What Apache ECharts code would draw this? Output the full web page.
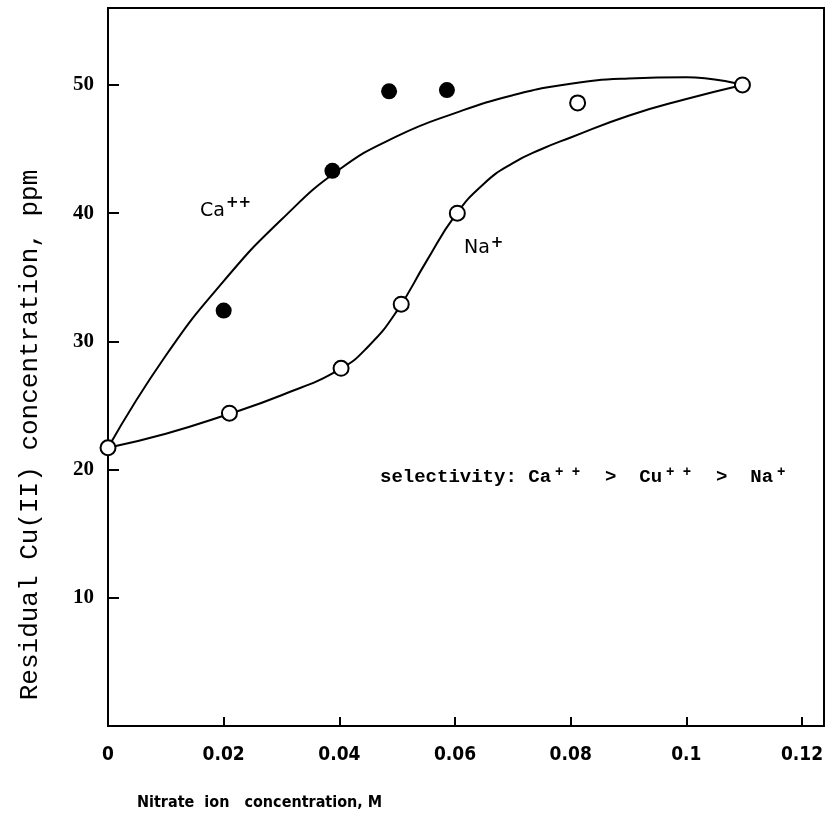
<!DOCTYPE html>
<html>
<head>
<meta charset="utf-8">
<title>Residual Cu(II) vs nitrate ion concentration</title>
<script src="https://cdn.jsdelivr.net/npm/echarts@6/dist/echarts.min.js"></script>
<style>
    html, body { margin: 0; padding: 0; background: #fff; }
    #chart { width: 833px; height: 829px; }
</style>
</head>
<body>
<div id="chart"></div>
<script>

// Data
// ------------------------------

// Measured points, [nitrate M, residual Cu ppm]
var caPoints = [[0.02, 32.4], [0.0388, 43.3], [0.0486, 49.5], [0.0586, 49.6]];
var naPoints = [[0, 21.7], [0.021, 24.4], [0.0403, 27.9], [0.0507, 32.9],
                [0.0604, 40.0], [0.0812, 48.6], [0.1097, 50.0]];

// Hand drawn fit curves
var caCurve = [[0, 21.7], [0.01, 28.9], [0.02, 34.7], [0.03, 39.5], [0.04, 43.4],
               [0.05, 46.0], [0.06, 47.8], [0.07, 49.2], [0.08, 50.1],
               [0.09, 50.5], [0.1, 50.6], [0.1097, 50.0]];
var naCurve = [[0, 21.7], [0.01, 22.8], [0.02, 24.2], [0.03, 25.8], [0.04, 27.8],
               [0.045, 29.6], [0.05, 32.4], [0.055, 36.2], [0.06, 39.8],
               [0.065, 42.3], [0.07, 43.9], [0.075, 45.0], [0.08, 45.9],
               [0.09, 47.6], [0.1, 48.9], [0.1097, 50.0]];

// Tick labels
var xTicks = [0, 0.02, 0.04, 0.06, 0.08, 0.1, 0.12];
var yTicks = [10, 20, 30, 40, 50];


// Chart
// ------------------------------

var chartElement = document.getElementById('chart');
var chart = echarts.init(chartElement);

var monoFont = '"Liberation Mono", "DejaVu Sans Mono", monospace';
var narrowFont = '"DejaVu Sans Condensed", "Liberation Sans Narrow", "DejaVu Sans", sans-serif';

chart.setOption({
    animation: false,
    backgroundColor: '#fff',

    // Plot box
    grid: {
        left: 108,
        right: 9,
        top: 8,
        bottom: 103,
        show: true,
        borderColor: '#000',
        borderWidth: 2
    },

    xAxis: {
        type: 'value',
        min: 0,
        max: 0.1238,
        interval: 0.02,
        axisLine: { lineStyle: { color: '#000', width: 2 } },
        axisTick: { inside: true, length: 9, lineStyle: { color: '#000', width: 2 } },
        splitLine: { show: false },
        axisLabel: {
            margin: 20,
            color: '#000',
            fontFamily: narrowFont,
            fontWeight: 'bold',
            fontSize: 19,
            showMaxLabel: false,
            formatter: function (v) {
                for (var i = 0; i < xTicks.length; i++) {
                    if (Math.abs(xTicks[i] - v) < 1e-9) return String(xTicks[i]);
                }
                return '';
            }
        }
    },

    yAxis: {
        type: 'value',
        min: 0,
        max: 56,
        interval: 10,
        axisLine: { lineStyle: { color: '#000', width: 2 } },
        axisTick: { inside: true, length: 11, lineStyle: { color: '#000', width: 2 } },
        splitLine: { show: false },
        axisLabel: {
            margin: 14,
            color: '#000',
            fontFamily: '"Liberation Serif", "DejaVu Serif", serif',
            fontWeight: 'bold',
            fontSize: 21,
            formatter: function (v) {
                return yTicks.indexOf(v) >= 0 ? String(v) : '';
            }
        }
    },

    // Axis titles and text annotations
    graphic: [
        {
            type: 'text',
            x: 30,
            y: 435,
            rotation: Math.PI / 2,
            style: {
                text: 'Residual Cu(II) concentration, ppm',
                fontFamily: monoFont,
                fontSize: 26,
                fill: '#000',
                align: 'center',
                verticalAlign: 'middle'
            }
        },
        {
            type: 'text',
            left: 137,
            top: 795,
            style: {
                text: 'Nitrate  ion   concentration, M',
                fontFamily: narrowFont,
                fontWeight: 'bold',
                fontSize: 16,
                fill: '#000'
            }
        },
        {
            type: 'text',
            left: 200,
            top: 196,
            style: {
                text: '{b|Ca}{s|++}',
                rich: {
                    b: { fontFamily: '"DejaVu Sans", sans-serif', fontSize: 19, fill: '#000', verticalAlign: 'bottom' },
                    s: { fontFamily: '"DejaVu Sans", sans-serif', fontSize: 15, fontWeight: 'bold', fill: '#000', padding: [0, 0, 10, 1] }
                }
            }
        },
        {
            type: 'text',
            left: 464,
            top: 236,
            style: {
                text: '{b|Na}{s|+}',
                rich: {
                    b: { fontFamily: '"DejaVu Sans", sans-serif', fontSize: 19, fill: '#000' },
                    s: { fontFamily: '"DejaVu Sans", sans-serif', fontSize: 15, fontWeight: 'bold', fill: '#000', padding: [0, 0, 10, 1] }
                }
            }
        },
        {
            type: 'text',
            left: 380,
            top: 465,
            style: {
                text: '{t|selectivity: Ca}{s|+ +}{t|  >  Cu}{s|+ +}{t|  >  Na}{s|+}',
                rich: {
                    t: { fontFamily: monoFont, fontSize: 19, fontWeight: 'bold', fill: '#000' },
                    s: { fontFamily: monoFont, fontSize: 14, fontWeight: 'bold', fill: '#000', padding: [0, 2, 10, 4] }
                }
            }
        }
    ],

    series: [
        {
            name: 'Ca curve',
            type: 'line',
            data: caCurve,
            smooth: 0.5,
            showSymbol: false,
            lineStyle: { color: '#000', width: 2 },
            z: 1
        },
        {
            name: 'Na curve',
            type: 'line',
            data: naCurve,
            smooth: 0.5,
            showSymbol: false,
            lineStyle: { color: '#000', width: 2 },
            z: 1
        },
        {
            name: 'Ca++',
            type: 'scatter',
            data: caPoints,
            symbol: 'circle',
            symbolSize: 16,
            itemStyle: { color: '#000', opacity: 1 },
            z: 3
        },
        {
            name: 'Na+',
            type: 'scatter',
            data: naPoints,
            symbol: 'circle',
            symbolSize: 15,
            itemStyle: { color: '#fff', borderColor: '#000', borderWidth: 2, opacity: 1 },
            z: 3
        }
    ]
});

</script>
</body>
</html>
